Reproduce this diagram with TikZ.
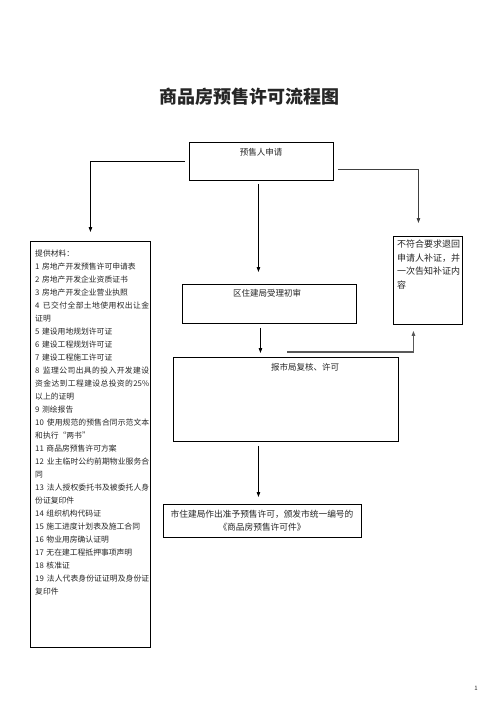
\documentclass[tikz,border=0pt]{standalone}
\usepackage{fontspec}
\setmainfont{Noto Sans CJK SC}
\usetikzlibrary{arrows.meta}
\makeatletter
\newcommand\jline[1]{\makebox[114pt]{\jl@first#1\jl@end}}
\def\jl@first#1{#1\jl@next}
\def\jl@next#1{\ifx\jl@end#1\else\hfill#1\expandafter\jl@next\fi}
\makeatother
\begin{document}
\begin{tikzpicture}[x=1pt,y=-1pt,
  box/.style={draw, line width=0.9pt, inner sep=0pt, anchor=north west},
  txt/.style={text=black!85, inner sep=0pt},
  arr/.style={line width=0.8pt, -{Triangle[length=5pt,width=3.5pt]}}]
\useasboundingbox (0,0) rectangle (496,702);
\fill[white] (0,0) rectangle (496,702);

\node[txt, font=\bfseries\fontsize{18}{20}\selectfont] (title) at (249,97) {商品房预售许可流程图};

% boxes
\node[box, minimum width=144pt, minimum height=38pt] (b1) at (189,142) {};
\node[txt, font=\fontsize{8.5}{10}\selectfont] (t1) at (261,152) {预售人申请};

\node[box, minimum width=120pt, minimum height=406pt] (lb) at (30,241) {};
\node[txt, anchor=north west, font=\fontsize{7.8}{13}\selectfont, align=left, text width=114pt] (lt) at (35,250) {%
提供材料：\\
1 房地产开发预售许可申请表\\
2 房地产开发企业资质证书\\
3 房地产开发企业营业执照\\
\jline{{4\hspace{3pt}}已交付全部土地使用权出让金}\\
证明\\
5 建设用地规划许可证\\
6 建设工程规划许可证\\
7 建设工程施工许可证\\
\jline{{8\hspace{3pt}}监理公司出具的投入开发建设}\\
\jline{资金达到工程建设总投资的{25\%}}\\
以上的证明\\
9 测绘报告\\
\jline{{10\hspace{3pt}}使用规范的预售合同示范文本}\\
和执行“两书”\\
11 商品房预售许可方案\\
\jline{{12\hspace{3pt}}业主临时公约前期物业服务合}\\
同\\
\jline{{13\hspace{3pt}}法人授权委托书及被委托人身}\\
份证复印件\\
14 组织机构代码证\\
15 施工进度计划表及施工合同\\
16 物业用房确认证明\\
17 无在建工程抵押事项声明\\
18 核准证\\
\jline{{19\hspace{3pt}}法人代表身份证证明及身份证}\\
复印件};

\node[box, minimum width=69pt, minimum height=88pt] (rb) at (393,236) {};
\node[txt, anchor=north west, font=\fontsize{9}{13.5}\selectfont, align=left] (rt) at (397,240) {不符合要求退回\\申请人补证，并\\一次告知补证内\\容};

\node[box, minimum width=174pt, minimum height=39pt] (b2) at (182,284) {};
\node[txt, font=\fontsize{8.5}{10}\selectfont] (t2) at (267,293) {区住建局受理初审};

\node[box, minimum width=225pt, minimum height=84pt] (b3) at (173,357) {};
\node[txt, font=\fontsize{8.5}{10}\selectfont] (t3) at (305,367) {报市局复核、许可};

\node[box, minimum width=198pt, minimum height=33pt] (b4) at (163,504) {};
\node[txt, font=\fontsize{8.7}{13}\selectfont, align=center] (t4) at (262,520.5) {市住建局作出准予预售许可，颁发市统一编号的\\《商品房预售许可件》};

\node[txt, font=\fontsize{6}{7}\selectfont] (pg) at (476,688) {1};

% connectors
\draw[arr, shorten <=4pt, shorten >=9pt] (b1.west) -| (lb.north);
\draw[arr, black!75, shorten <=4pt] ([yshift=-8pt]b1.east) -| ([xshift=-9.5pt,yshift=13pt]rb.north);
\draw[arr, shorten <=3pt, shorten >=12pt] ([xshift=-3pt]b1.south) -- ([xshift=-3pt]b1.south |- b2.north);
\draw[arr, shorten <=4pt, shorten >=4pt] ([xshift=-9pt]b2.south) -- ([xshift=-9pt]b2.south |- b3.north);
\coordinate (c1) at (287,352);
\draw[arr, black!65, line width=1.1pt] (c1) -| ([xshift=-14.5pt,yshift=-6pt]rb.south);
\draw[arr, shorten <=4pt, shorten >=7pt] ([xshift=-27.5pt]b3.south) -- ([xshift=-27.5pt]b3.south |- b4.north);
\end{tikzpicture}
\end{document}
